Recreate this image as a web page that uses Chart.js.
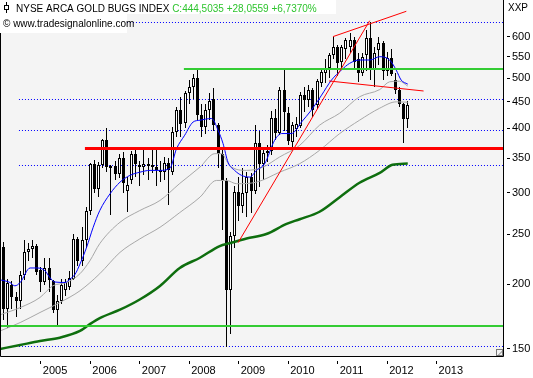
<!DOCTYPE html>
<html>
<head>
<meta charset="utf-8">
<script src="https://cdn.jsdelivr.net/npm/chart.js@4.4.1/dist/chart.umd.min.js"></script>
<style>
  html, body { margin: 0; padding: 0; background: #fff; }
</style>
</head>
<body>
<canvas id="hui" width="533" height="378"></canvas>
<script>
// monthly candles, Apr 2004 .. Jun 2012 (index 0 = Apr 2004)
const opens  = [236,179,199,189,186,208,231,234,237,213,202,215,203,178,186,195,198,205,245,222,
                243,277,341,306,340,379,335,338,326,350,303,318,357,339,336,341,340,337,333,330,
                343,330,393,434,410,467,480,500,424,402,433,456,405,357,316,195,248,301,283,300,
                322,302,375,341,358,361,418,392,474,428,376,399,404,463,453,474,443,490,511,523,
                553,575,536,568,575,593,545,512,555,597,520,566,585,516,546,496,474,446,416.4];
const highs  = [241,205,203,193,212,243,240,243,239,216,225,225,204,191,205,205,212,250,247,258,
                282,343,348,345,381,401,340,346,356,360,322,362,366,346,366,350,366,366,346,352,
                350,402,440,460,472,495,510,518,445,445,468,478,410,365,320,252,310,322,335,330,
                328,405,395,365,372,432,435,480,518,440,412,420,470,480,485,478,498,520,545,560,
                601,580,578,598,612,600,558,560,620,640,575,600,590,562,568,512,480,448,452];
const lows   = [171,165,179,173,179,204,222,225,208,193,199,193,176,166,183,190,195,204,217,217,
                235,272,300,295,335,330,272,318,320,300,276,312,322,310,325,318,328,310,315,318,
                285,325,385,385,400,445,455,415,385,390,415,395,335,254,151,160,235,265,275,270,
                275,298,308,318,345,355,380,388,396,372,365,385,400,430,440,420,435,480,490,500,
                545,504,520,545,560,520,492,505,515,495,480,530,495,505,505,465,440,374,400];
const closes = [179,201,189,186,208,231,234,237,211,202,215,204,178,186,199,202,206,245,222,243,
                277,341,306,340,379,337,338,326,350,313,311,357,341,336,341,338,337,332,330,343,
                333,393,434,408,467,480,500,424,402,433,452,405,356,316,195,248,301,283,300,322,
                302,375,341,358,361,418,392,474,430,378,405,408,463,453,474,433,493,513,522,553,
                575,534,574,592,593,537,512,550,597,520,560,585,516,546,510,475,446,416.4,444.5];

// moving averages: [month index, value]
const blueIdx  = [-0.9,1.5,2.7,4,6.4,8.1,10,11.2,12.4,14.9,16.1,17.3,18.5,20.1,21.7,23.3,25.8,28.2,30.6,33,
                  35.5,37.9,40.3,41.9,43.9,45.9,47.6,50.4,52,53.2,54.4,56,57.7,59.7,61.3,63.3,65.7,67.4,69.8,72.2,
                  74.6,77.1,79.5,81.9,83.9,86.3,88.8,91.2,93.6,95.2,96.4,98];
const blueVal  = [204,201.6,198.6,201.6,215,215,212.4,206,202,201.6,204.7,209,218.8,235.6,257.6,277.5,299,314.8,324.4,329,
                  331.7,331.7,334.7,365,387.8,411,414.5,417.7,396.4,373.6,344,331.7,324.4,322,331.7,341.8,379,390.7,390.7,411,
                  433.4,463.4,495.5,518,533.7,541.7,541.7,549.7,541.7,518,495.5,486.7];
const grayAIdx = [-0.9,4,8.8,11.9,15.3,18.5,20.9,23.3,28.2,33,37.9,42.7,47.6,51.2,52.8,54.8,58.9,62.9,66.9,71.8,
                  76.6,81.5,86.3,91.2,93.6,96,98];
const grayAVal = [174.6,180.3,188.6,198.6,201.6,209.6,222,239.6,263.4,277.5,290.2,313,336.6,357.3,357.3,339,331.7,336.6,352,370.8,
                  405.4,427.7,460,475,491.7,493,482.4];
const grayBIdx = [-0.9,4,8.8,13.6,18.5,23.3,28.2,33,37.9,42.7,47.6,51.6,54,56.5,61.3,66.9,71.8,76.6,81.5,86.3,
                  91.2,95.2,98];
const grayBVal = [162.5,168.7,176.4,184.4,194.3,209.6,230.4,244.6,257.6,275,294.5,317.2,317.2,312.6,314.8,329,341.8,362.6,390.7,414.5,
                  437.3,449.8,449];
const greenIdx = [-0.9,4,8.8,13.6,18.5,20.9,23.3,28.2,33,37.9,42.7,47.6,52.4,54.8,58.9,63.7,68.6,71.8,76.6,81.5,
                  86.3,91.2,94.3,98];
const greenVal = [150,152.7,155.4,157.7,162.5,167.5,172,178.6,186.9,198.5,215,225,237,240,245,250,261.5,267,276,294.5,
                  314,328,340,342];

// horizontal levels and trend lines
const levelVals   = [166, 365, 519];
const levelStart  = [-0.9, 19.7, 43.7];
const levelColors = ['#33cc33', '#ff0000', '#33cc33'];
const levelWidths = [2, 3, 2];
const dotLevels   = [640, 454.5, 396, 339, 151.7];
const trendLines  = [
  [[56.85, 240.6], [88.76, 645]],
  [[79.86, 601], [97.65, 672.6]],
  [[78.9, 493.5], [101.84, 472]],
];

const yTicks     = [150, 200, 250, 300, 350, 400, 450, 500, 550, 600];
const yearTicks  = [9, 21, 33, 45, 57, 69, 81, 93, 105];
const yearLabels = ['2005','2006','2007','2008','2009','2010','2011','2012','2013'];
const xMin = -0.9, xMax = 121.1, yMin = 145.4, yMax = 707.2;

const FONT = '"Liberation Sans", Arial, sans-serif';

const pts = (xs, ys) => xs.map((x, k) => ({ x, y: ys[k] }));

const frame = {
  id: 'frame',
  beforeDraw(chart) {
    const { ctx, chartArea: a } = chart;
    ctx.save();
    ctx.fillStyle = '#fff';
    ctx.fillRect(0, 0, chart.width, chart.height);
    ctx.fillStyle = '#f4f4f4';
    ctx.fillRect(a.left, a.top, a.right - a.left, a.bottom - a.top);
    ctx.restore();
  },
  beforeDatasetDraw(chart, args) {
    const meta = args.meta;
    const ds = chart.data.datasets[args.index];
    if (meta.type === 'bar') {
      meta.data.forEach(el => {
        el.x = Math.floor(el.x) + 0.5;
        el.y = Math.round(el.y);
        el.base = Math.round(el.base);
        if (el.base === el.y) el.base = el.y + 1;
      });
    } else if (ds.snap) {
      const off = ds.borderWidth % 2 ? 0.5 : 0;
      meta.data.forEach(el => { el.y = Math.floor(el.y) + off; });
    }
  },
  afterDraw(chart) {
    const { ctx, chartArea: a } = chart;
    ctx.save();
    ctx.strokeStyle = '#000';
    ctx.lineWidth = 1;
    ctx.beginPath();
    ctx.moveTo(0.5, a.top);
    ctx.lineTo(0.5, a.bottom + 0.5);
    ctx.lineTo(a.right + 0.5, a.bottom + 0.5);
    ctx.lineTo(a.right + 0.5, a.top);
    ctx.stroke();
    // resize grip
    ctx.strokeStyle = '#777';
    ctx.strokeRect(a.right - 6.5, a.bottom - 6.5, 6, 6);
    ctx.beginPath();
    ctx.moveTo(a.right - 5, a.bottom - 0.5);
    ctx.lineTo(a.right - 0.5, a.bottom - 5);
    ctx.stroke();

    // header
    ctx.fillStyle = '#fff';
    ctx.fillRect(0, 0, 336, 14);
    ctx.fillRect(0, 14, 127, 19);
    ctx.strokeStyle = '#000';
    ctx.beginPath();
    ctx.moveTo(6.5, 2); ctx.lineTo(6.5, 13);
    ctx.stroke();
    ctx.fillStyle = '#fff';
    ctx.fillRect(4, 5, 5, 5);
    ctx.strokeRect(4.5, 5.5, 4, 4);

    ctx.font = '10px ' + FONT;
    ctx.textBaseline = 'alphabetic';
    ctx.fillStyle = '#000';
    const title = 'NYSE ARCA GOLD BUGS INDEX ';
    ctx.fillText(title, 16, 11.5);
    ctx.fillStyle = '#2ec42e';
    ctx.fillText('C:444,5035 +28,0559 +6,7370%', 16 + ctx.measureText(title).width, 11.5);
    ctx.fillStyle = '#000';
    ctx.fillText('\u00a9 www.tradesignalonline.com', 3, 27);
    ctx.fillText('XXP', 508, 11);
    ctx.restore();
  }
};

const datasets = [];

dotLevels.forEach(v => datasets.push({
  type: 'line', data: [{ x: 3.7, y: v }, { x: xMax, y: v }],
  borderColor: '#0000ff', borderWidth: 1, borderDash: [1, 2], pointRadius: 0, order: 20, snap: true,
}));

datasets.push({
  type: 'bar', label: 'wicks',
  data: highs.map((h, i) => ({ x: i, y: [lows[i], h] })),
  backgroundColor: '#000', borderWidth: 0, barThickness: 1, grouped: false, inflateAmount: 0, order: 12,
});
datasets.push({
  type: 'bar', label: 'bodies',
  data: opens.map((o, i) => ({ x: i, y: [o, closes[i]] })),
  backgroundColor: opens.map((o, i) => closes[i] >= o ? '#fff' : '#000'),
  borderColor: '#000', borderWidth: 1, borderSkipped: false, barThickness: 3, grouped: false, inflateAmount: 0, order: 11,
});

const maLine = (xs, ys, color, width, order) => ({
  type: 'line', data: pts(xs, ys), borderColor: color, borderWidth: width,
  pointRadius: 0, cubicInterpolationMode: 'monotone', order,
});
datasets.push(maLine(greenIdx, greenVal, '#0e6e0e', 2.5, 6));
datasets.push(maLine(grayBIdx, grayBVal, '#a8a8a8', 1, 7));
datasets.push(maLine(grayAIdx, grayAVal, '#a8a8a8', 1, 7));
datasets.push(maLine(blueIdx, blueVal, '#0000ff', 1, 5));

levelVals.forEach((v, k) => datasets.push({
  type: 'line', data: [{ x: levelStart[k], y: v }, { x: xMax, y: v }],
  borderColor: levelColors[k], borderWidth: levelWidths[k], pointRadius: 0, order: 3, snap: true,
}));

trendLines.forEach(t => datasets.push({
  type: 'line', data: t.map(p => ({ x: p[0], y: p[1] })),
  borderColor: '#ff0000', borderWidth: 1, pointRadius: 0, order: 2,
}));

new Chart(document.getElementById('hui'), {
  type: 'bar',
  data: { datasets },
  options: {
    responsive: false, animation: false, devicePixelRatio: 1, events: [],
    layout: { padding: 0 },
    plugins: { legend: { display: false }, tooltip: { enabled: false } },
    scales: {
      x: {
        type: 'linear', min: xMin, max: xMax, offset: false,
        afterFit: s => { s.height = 22; s.paddingLeft = 0; s.paddingRight = 0; },
        afterBuildTicks: s => { s.ticks = yearTicks.map(v => ({ value: v })); },
        border: { display: false },
        grid: { offset: false, drawOnChartArea: false, tickLength: 8, tickColor: '#000', tickBorderDash: [0, 5, 4, 20] },
        ticks: {
          callback: (v, k) => yearLabels[k], align: 'start', labelOffset: 2, padding: 0,
          color: '#000', font: { family: FONT, size: 11 }, maxRotation: 0, autoSkip: false,
        },
      },
      y: {
        type: 'logarithmic', position: 'right', min: yMin, max: yMax,
        afterFit: s => { s.width = 30; s.paddingTop = 0; s.paddingBottom = 0; },
        afterBuildTicks: s => { s.ticks = yTicks.map(v => ({ value: v })); },
        border: { display: false },
        grid: { drawOnChartArea: false, tickLength: 8, tickColor: '#000', tickBorderDash: [0, 4, 3, 20] },
        ticks: {
          callback: v => String(v), padding: 1, color: '#000',
          font: { family: FONT, size: 11 }, autoSkip: false,
        },
      },
    },
  },
  plugins: [frame],
});
</script>
</body>
</html>
